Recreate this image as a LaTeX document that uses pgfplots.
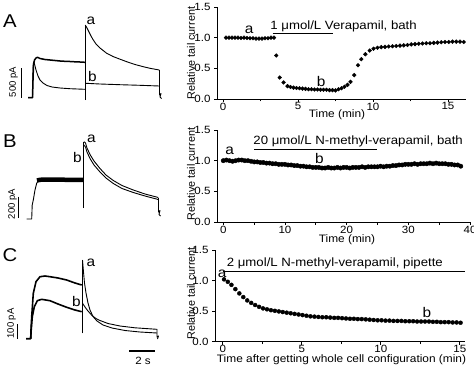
\documentclass[border=0pt]{standalone}
\usepackage{fontspec}
\setmainfont{Liberation Sans}[FakeStretch=1.1]
\newfontfamily\rotfont{Liberation Sans}
\usepackage{pgfplots}
\pgfplotsset{compat=1.18}
\begin{document}
\begin{tikzpicture}
\path[use as bounding box] (0pt,0pt) rectangle (474pt,370pt);
\tikzset{
  ann/.style={anchor=base west, inner sep=0pt, font=\fontsize{12}{14}\selectfont},
  lab/.style={anchor=base, inner sep=0pt, font=\fontsize{14}{16}\selectfont},
}
\pgfplotsset{
  rel/.style={
    scale only axis, clip=false,
    axis x line=bottom, axis y line=left,
    axis line style={-, line width=0.8pt},
    tick align=outside,
    major tick length=3pt, minor tick length=2.5pt,
    tick style={black, line width=0.8pt},
    minor tick style={black, line width=0.8pt},
    ymin=0, ymax=1.5, ytick={0,0.5,1,1.5},
    yticklabel style={/pgf/number format/fixed, /pgf/number format/fixed zerofill, /pgf/number format/precision=1},
    /pgf/number format/assume math mode=true,
    tick label style={font=\fontsize{10.5}{12}\selectfont},
    xticklabel style={inner sep=0.5pt},
    xlabel style={font=\fontsize{10.8}{13}\selectfont, anchor=center},
    ylabel style={font=\rotfont\fontsize{10.8}{13}\selectfont, anchor=center},
    ylabel={Relative tail current},
    height=92pt,
  },
  dots/.style={only marks, mark=*, mark size=1.9pt, black},
  tr/.style={black, line width=0.9pt, no marks, line join=round},
}
% ---------- left column: current traces (image pixel coordinates) ----------
\begin{axis}[at={(0pt,0pt)}, anchor=south west, scale only axis, width=200pt, height=370pt,
  xmin=0, xmax=200, ymin=0, ymax=370, y dir=reverse, hide axis, clip=false]
% Panel A
\addplot[tr, line width=1.5pt] coordinates {(28,97.7) (32.5,97.7) (33,80) (33.5,65) (34.5,60) (36,58) (37.5,57.3) (40,58.5) (45,59.5) (50,60) (55,60.5) (60,61) (65,61.3) (70,61.5) (75,61.8) (80,62) (85,62.3)};
\addplot[tr] coordinates {(28,97.7) (32.5,97.7) (33,70) (33.5,62) (34.5,64) (36,70) (38,76) (40,80) (43,83) (47,85.5) (52,87) (60,88) (70,88.7) (85,89.3)};
\addplot[tr] coordinates {(85.3,100) (85.3,25)};
\addplot[tr] coordinates {(85.3,25) (87,28) (89,32) (91,36) (93.3,40) (96,44) (100,48) (106.7,53.3) (113,56.5) (120,59.2) (126.7,61.7) (135,64.5) (143.3,66.7) (150,68.3) (159.3,70)};
\addplot[tr] coordinates {(85.3,83.3) (90,83.5) (100,84) (120,84.7) (140,85.3) (159.3,86)};
\addplot[tr] coordinates {(159.5,70) (159.5,95) (161,93.5) (160,97) (161.5,98.5)};
\addplot[black, line width=1.1pt] coordinates {(21.7,68) (21.7,97.5)};
\node[rotate=90, font=\rotfont\fontsize{9.5}{11}\selectfont] at (axis cs:13.5,82) {500 pA};
\node[anchor=base west, inner sep=0pt, font=\fontsize{18.5}{20}\selectfont] at (axis cs:3,27.3) {A};
\node[lab] at (axis cs:91,24) {a};
\node[lab] at (axis cs:92.5,81.7) {b};
% Panel B
\addplot[tr] coordinates {(26.7,219) (31.7,219) (32.2,205) (33.3,200) (35,190) (36.7,183.3) (38,181)};
\addplot[black, line width=4.5pt, no marks] coordinates {(37,180.5) (40,179.8) (45,179.5) (50,179.5) (60,179.7) (70,179.8) (83.3,180)};
\addplot[tr] coordinates {(83.6,208) (83.6,141.7)};
\addplot[tr] coordinates {(84,141.7) (85.5,143) (87,148) (90,154.5) (94,161) (100,168.5) (106,175) (113.3,180.5) (122,185.5) (133.3,190) (145,194) (158.3,197.5)};
\addplot[tr] coordinates {(84,145) (85.5,147) (87,152) (90,158.5) (94,165) (100,172) (106,178) (113.3,183.5) (122,188.5) (133.3,192.5) (145,196) (158.3,199.5)};
\addplot[tr] coordinates {(158.5,198) (158.5,212) (160,210.5) (159,214.5) (160.5,216)};
\addplot[black, line width=1.1pt] coordinates {(18.3,196.7) (18.3,218.3)};
\node[rotate=90, font=\rotfont\fontsize{9.5}{11}\selectfont] at (axis cs:12.5,204) {200 pA};
\node[anchor=base west, inner sep=0pt, font=\fontsize{18.5}{20}\selectfont] at (axis cs:3,147.3) {B};
\node[lab] at (axis cs:91.5,142.7) {a};
\node[lab] at (axis cs:77.5,162.7) {b};
% Panel C
\addplot[tr, line width=1.6pt] coordinates {(26,338.7) (30.7,338.7) (31,330) (31.7,316.7) (33.3,293.3) (36,281.7) (40,276.7) (45,276) (50,276.7) (58,278) (66.7,280) (75,283) (81.7,285)};
\addplot[tr, line width=1.6pt] coordinates {(30.7,338.7) (31.2,330) (32.3,316.7) (34.3,306.7) (37.3,300.7) (41.7,299.3) (50,300.7) (58,304) (66.7,307.3) (75,310) (81.7,311.7)};
\addplot[tr] coordinates {(82.2,333.3) (82.2,260)};
\addplot[tr] coordinates {(82.5,260) (83.5,272) (84.5,283) (86,293) (88,303) (90,310) (93,316.5) (97,321) (103,325) (112,328) (125,330.5) (140,332) (157,333)};
\addplot[tr] coordinates {(82.5,303.3) (85,307) (88,311) (92,315.5) (96,318.5) (100,320.5) (108,323.5) (120,326) (135,327.8) (157,329.3)};
\addplot[tr] coordinates {(157,329) (157,337) (158.5,336) (157.5,339)};
\addplot[black, line width=1.1pt] coordinates {(17.3,324) (17.3,339)};
\node[rotate=90, font=\rotfont\fontsize{9.5}{11}\selectfont] at (axis cs:11.5,323.5) {100 pA};
\addplot[black, line width=1.1pt] coordinates {(129.3,351) (155,351)};
\node[font=\fontsize{10.5}{12}\selectfont] at (axis cs:143,360.5) {2 s};
\node[anchor=base west, inner sep=0pt, font=\fontsize{18.5}{20}\selectfont] at (axis cs:2.5,261.7) {C};
\node[lab] at (axis cs:91,266) {a};
\node[lab] at (axis cs:76.3,306) {b};
\end{axis}
% ---------- A right: Verapamil bath ----------
\begin{axis}[rel, at={(217pt,271pt)}, anchor=south west, width=249pt,
  xmin=-0.4, xmax=16.2, xtick={0,5,10,15}, minor xtick={2.5,7.5,12.5},
  xlabel={Time (min)},
  xlabel style={at={(axis description cs:0.482,-0.174)}},
  ylabel style={at={(axis description cs:-0.104,0.5)}}]
\addplot[dots] coordinates {
(0.2,1.00) (0.4,1.00) (0.6,1.00) (0.8,1.00) (1.0,1.00) (1.2,0.995) (1.4,1.00) (1.6,0.995) (1.8,0.99) (2.0,0.99) (2.2,0.985) (2.4,0.985) (2.6,0.985) (2.8,0.99) (3.0,0.99) (3.2,1.00) (3.4,1.00)
(3.55,0.71) (3.78,0.35) (4.04,0.27) (4.3,0.21) (4.5,0.195) (4.7,0.185) (4.9,0.18) (5.1,0.175) (5.3,0.17) (5.5,0.165) (5.7,0.16) (5.9,0.16) (6.1,0.155) (6.3,0.155) (6.5,0.15) (6.7,0.15) (6.9,0.15) (7.1,0.145) (7.3,0.145) (7.5,0.14)
(7.7,0.16) (7.9,0.175) (8.1,0.20) (8.3,0.23) (8.5,0.28) (8.75,0.39) (9.0,0.55) (9.22,0.65) (9.49,0.73) (9.78,0.79) (10.04,0.82) (10.3,0.835) (10.55,0.845) (10.8,0.85) (11.05,0.855) (11.3,0.86) (11.55,0.865) (11.8,0.87) (12.05,0.875) (12.3,0.88) (12.55,0.89) (12.8,0.895) (13.05,0.90) (13.3,0.905) (13.55,0.91) (13.8,0.91) (14.05,0.915) (14.3,0.92) (14.55,0.925) (14.8,0.93) (15.05,0.93) (15.3,0.935) (15.55,0.935) (15.8,0.935) (16.05,0.93)
};
\addplot[black, line width=0.8pt, no marks] coordinates {(3.3,1.07) (7.3,1.07)};
\node[ann] at (axis cs:3.15,1.137) {1 μmol/L Verapamil, bath};
\node[lab] at (axis cs:1.75,1.07) {a};
\node[lab] at (axis cs:6.54,0.21) {b};
\end{axis}
% ---------- B right: N-methyl-verapamil bath ----------
\begin{axis}[rel, at={(217pt,148pt)}, anchor=south west, width=253pt,
  xmin=-1.02, xmax=40, xtick={0,10,20,30,40}, minor xtick={5,15,25,35},
  xlabel={Time (min)},
  xlabel style={at={(axis description cs:0.514,-0.196)}},
  ylabel style={at={(axis description cs:-0.103,0.52)}}]
\addplot[dots, mark size=2.2pt] coordinates {
(0,1.00) (0.5,1.01) (1,1.00) (1.5,0.99) (2,1.00) (2.5,1.01) (3,1.01) (3.5,1.00) (4,1.00) (4.5,0.99) (5,0.98) (5.5,0.98) (6,0.97) (6.5,0.97) (7,0.96) (7.5,0.96) (8,0.95) (8.5,0.95) (9,0.94) (9.5,0.94) (10,0.94) (10.5,0.93) (11,0.93) (11.5,0.92) (12,0.92) (12.5,0.91) (13,0.91) (13.5,0.90) (14,0.90) (14.5,0.89) (15,0.89) (15.5,0.89) (16,0.88) (16.5,0.88) (17,0.89) (17.5,0.88) (18,0.88) (18.5,0.89) (19,0.88) (19.5,0.89)
(20,0.89) (20.5,0.88) (21,0.89) (21.5,0.89) (22,0.89) (22.5,0.90) (23,0.89) (23.5,0.90) (24,0.90) (24.5,0.90) (25,0.90) (25.5,0.91) (26,0.90) (26.5,0.91) (27,0.91) (27.5,0.92) (28,0.92) (28.5,0.93) (29,0.93) (29.5,0.94) (30,0.94) (30.5,0.94) (31,0.95) (31.5,0.94) (32,0.95) (32.5,0.95) (33,0.95) (33.5,0.96) (34,0.95) (34.5,0.96) (35,0.95) (35.5,0.95) (36,0.95) (36.5,0.94) (37,0.94) (37.5,0.93) (38,0.93) (38.5,0.91)
};
\addplot[black, line width=0.8pt, no marks] coordinates {(5.0,1.186) (24.9,1.186)};
\node[ann] at (axis cs:4.86,1.256) {20 μmol/L N-methyl-verapamil, bath};
\node[lab] at (axis cs:1.04,1.093) {a};
\node[lab] at (axis cs:15.6,0.958) {b};
\end{axis}
% ---------- C right: N-methyl-verapamil pipette ----------
\begin{axis}[rel, at={(215pt,28.3pt)}, anchor=south west, width=250pt, height=91.7pt,
  xmin=-0.49, xmax=15.33, xtick={0,5,10,15}, minor xtick={2.5,7.5,12.5},
  xlabel={Time after getting whole cell configuration (min)},
  xlabel style={at={(axis description cs:0.506,-0.195)}},
  ylabel style={at={(axis description cs:-0.096,0.526)}}]
\addplot[dots, mark size=2pt] coordinates {
(0.08,1.02) (0.32,0.98) (0.55,0.93) (0.80,0.86) (1.05,0.79) (1.30,0.73) (1.55,0.675) (1.80,0.635) (2.05,0.60) (2.30,0.57) (2.55,0.545) (2.80,0.53) (3.05,0.515) (3.30,0.505) (3.55,0.495) (3.80,0.485) (4.05,0.475) (4.30,0.465) (4.55,0.455) (4.80,0.445) (5.05,0.435) (5.30,0.425) (5.55,0.415) (5.80,0.41) (6.05,0.405) (6.30,0.40) (6.55,0.40) (6.80,0.395) (7.05,0.39) (7.30,0.39)
(7.55,0.385) (7.80,0.38) (8.05,0.375) (8.30,0.375) (8.55,0.37) (8.80,0.37) (9.05,0.365) (9.30,0.36) (9.55,0.355) (9.80,0.35) (10.05,0.35) (10.30,0.345) (10.55,0.345) (10.80,0.34) (11.05,0.34) (11.30,0.34) (11.55,0.335) (11.80,0.335) (12.05,0.335) (12.30,0.33) (12.55,0.33) (12.80,0.33) (13.05,0.33) (13.30,0.325) (13.55,0.325) (13.80,0.32) (14.05,0.32) (14.30,0.32) (14.55,0.315) (14.80,0.315) (15.05,0.31)
};
\addplot[black, line width=0.8pt, no marks] coordinates {(0.04,1.157) (15.33,1.157)};
\node[ann] at (axis cs:0.25,1.227) {2 μmol/L N-methyl-verapamil, pipette};
\node[lab] at (axis cs:-0.04,1.054) {a};
\node[lab] at (axis cs:12.92,0.393) {b};
\end{axis}
\end{tikzpicture}
\end{document}
